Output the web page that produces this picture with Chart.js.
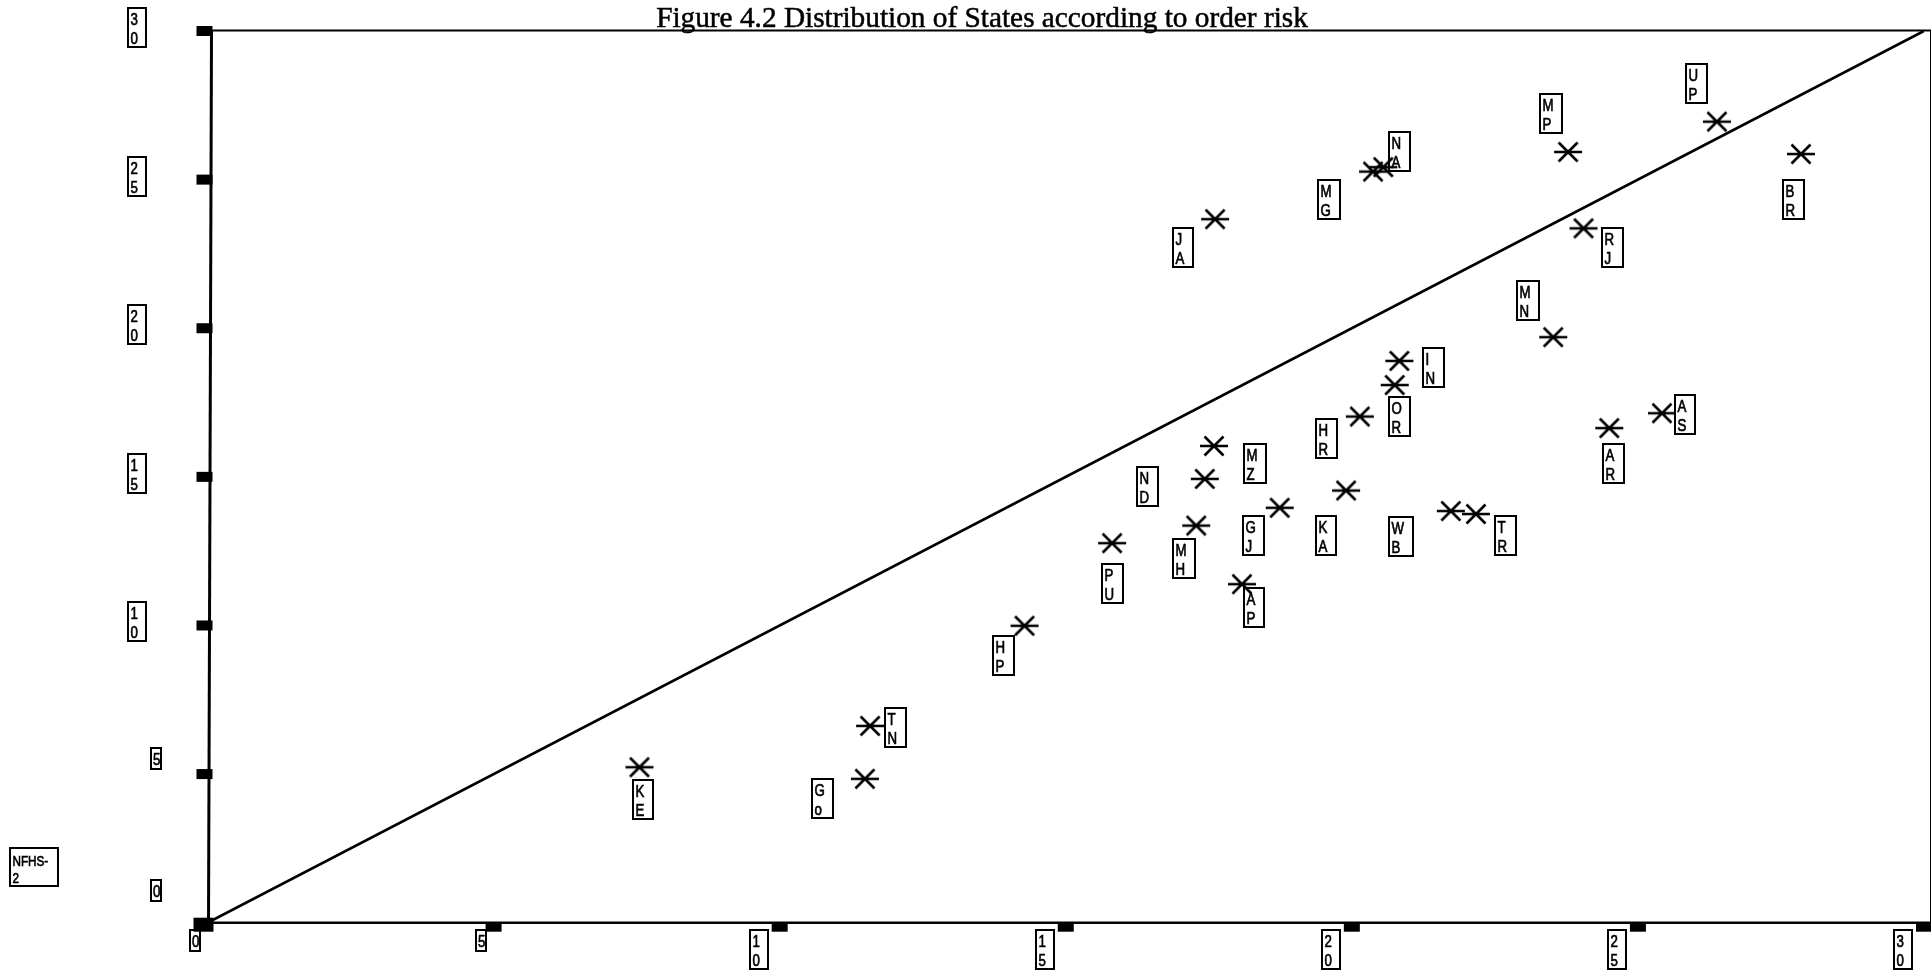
<!DOCTYPE html>
<html>
<head>
<meta charset="utf-8">
<title>Figure 4.2 Distribution of States according to order risk</title>
<script src="https://cdn.jsdelivr.net/npm/chart.js"></script>
<style>
  html, body { margin: 0; padding: 0; background: #fff; overflow: hidden; }
</style>
</head>
<body>
<canvas id="riskChart" width="1931" height="974"></canvas>
<script>
// states and their values
const states = ['KE', 'Go', 'TN', 'HP', 'PU', 'MH', 'ND', 'MZ', 'AP', 'GJ', 'KA', 'HR', 'OR',
                'IN', 'WB', 'TR', 'MN', 'AR', 'AS', 'RJ', 'MP', 'UP', 'BR', 'MG', 'NA', 'JA'];
const xValues = [7.55, 11.49, 11.58, 14.28, 15.81, 17.28, 17.43, 17.59, 18.08, 18.74, 19.90, 20.14, 20.75,
                 20.83, 21.73, 22.17, 23.52, 24.50, 25.42, 24.05, 23.78, 26.38, 27.85, 20.37, 20.55, 17.61];
const nfhs2 = [5.23, 4.84, 6.62, 9.99, 12.77, 13.36, 14.93, 16.04, 11.39, 13.96, 14.54, 17.03, 18.09,
               18.90, 13.85, 13.75, 19.70, 16.64, 17.14, 23.36, 25.93, 26.95, 25.86, 25.27, 25.42, 23.67];
// equal risk line
const refX = [0, 30];
const refY = [0, 30];
const tickValues = [0, 5, 10, 15, 20, 25, 30];
const yAxisName = 'NFHS-2';
const chartTitle = 'Figure 4.2 Distribution of States according to order risk';

// where each state's label box sits relative to its star, in px
const labelOffsets = [[4, 32], [-42, 20], [25, 1.5], [-21, 30], [0, 40], [-12, 33], [-57, 8], [41, 18],
                      [12, 23], [-26, 28], [-20, 45], [-33, 22], [5, 31], [34, 7], [-50, 25], [30, 21],
                      [-25, -37], [4, 35], [23, 1], [29, 19], [-17, -38], [-20, -38], [-7, 45], [-44, 28],
                      [16, -16], [-32, 28]];

const LABEL_FONT = '17px "Liberation Sans", Arial, sans-serif';
const SQUEEZE = 0.78; // narrow letters like the spss output

// asterisk marker: horizontal bar + an X
function makeStar() {
  const c = document.createElement('canvas');
  c.width = 32; c.height = 24;
  const g = c.getContext('2d');
  g.strokeStyle = '#000';
  g.lineWidth = 2.6;
  g.beginPath();
  g.moveTo(2, 12); g.lineTo(30, 12);
  g.moveTo(6.5, 2.5); g.lineTo(25.5, 21.5);
  g.moveTo(6.5, 21.5); g.lineTo(25.5, 2.5);
  g.stroke();
  return c;
}

// text squeezed sideways, with a thin outline so it reads as heavy as the scan
function narrowText(ctx, txt, x, y) {
  ctx.save();
  ctx.translate(x, y);
  ctx.scale(SQUEEZE, 1);
  ctx.lineWidth = 0.7;
  ctx.fillText(txt, 0, 0);
  ctx.strokeText(txt, 0, 0);
  ctx.restore();
}

function boxSize(ctx, text) {
  let w = 0;
  text.split('').forEach(ch => { w = Math.max(w, ctx.measureText(ch).width * SQUEEZE); });
  return [Math.round(w + 11), 19 * text.length + 1];
}

// box with one character per line
function stackedBox(ctx, text, left, top) {
  const [bw, bh] = boxSize(ctx, text);
  ctx.lineWidth = 2;
  ctx.strokeRect(left, top, bw, bh);
  text.split('').forEach((ch, i) => narrowText(ctx, ch, left + 2.5, top + 17 + i * 19));
}

// single clipped digit box (the 0 and 5 ticks)
function clippedBox(ctx, txt, left, top) {
  ctx.lineWidth = 2;
  ctx.strokeRect(left, top, 10, 21);
  ctx.save();
  ctx.beginPath();
  ctx.rect(left, top, 10, 21);
  ctx.clip();
  narrowText(ctx, txt, left + 2, top + 17);
  ctx.restore();
}

const decor = {
  id: 'decor',
  afterDraw(chart) {
    const ctx = chart.ctx;
    const xs = chart.scales.x, ys = chart.scales.y;
    const x0 = xs.getPixelForValue(0), yBottom = ys.getPixelForValue(0), yTop = ys.getPixelForValue(30);
    ctx.save();
    ctx.strokeStyle = '#000';
    ctx.fillStyle = '#000';

    // frame
    ctx.lineWidth = 3;
    ctx.beginPath(); ctx.moveTo(x0 + 1, yBottom); ctx.lineTo(x0 + 4, yTop); ctx.stroke();
    ctx.lineWidth = 2.5;
    ctx.beginPath(); ctx.moveTo(x0, yBottom); ctx.lineTo(chart.width, yBottom); ctx.stroke();
    ctx.lineWidth = 2;
    ctx.beginPath(); ctx.moveTo(x0 + 3, yTop - 0.5); ctx.lineTo(chart.width, yTop - 0.5); ctx.stroke();
    ctx.lineWidth = 1;
    ctx.beginPath(); ctx.moveTo(chart.width - 0.5, yTop); ctx.lineTo(chart.width - 0.5, yBottom); ctx.stroke();

    // tick blocks
    tickValues.forEach(t => {
      const px = xs.getPixelForValue(t), py = ys.getPixelForValue(t);
      if (t === 0) {
        ctx.fillRect(x0 - 14, yBottom - 5, 20, 14);
        return;
      }
      ctx.fillRect(px - 8, yBottom, 16, 9);
      ctx.fillRect(x0 - 11, py - 5, 16, 10);
    });

    // tick labels
    ctx.font = LABEL_FONT;
    const ySingleTop = { 0: -43, 5: -26 };
    tickValues.forEach(t => {
      const px = xs.getPixelForValue(t), py = ys.getPixelForValue(t);
      const s = String(t);
      if (s.length === 1) {
        clippedBox(ctx, s, Math.round(px - 17.5), 930);
        clippedBox(ctx, s, 151, Math.round(py + ySingleTop[t]));
      } else {
        const [bw] = boxSize(ctx, s);
        stackedBox(ctx, s, Math.round(px - 12 - bw), 930);
        stackedBox(ctx, s, 128, Math.round(py - 23));
      }
    });

    // state labels
    const meta = chart.getDatasetMeta(0);
    meta.data.forEach((pt, i) => {
      const [bw, bh] = boxSize(ctx, states[i]);
      const cx = pt.x + labelOffsets[i][0], cy = pt.y + labelOffsets[i][1];
      stackedBox(ctx, states[i], Math.round(cx - bw / 2), Math.round(cy - bh / 2));
    });

    // y axis name box
    ctx.font = '15px "Liberation Sans", Arial, sans-serif';
    ctx.lineWidth = 2;
    ctx.strokeRect(10, 848, 48, 38);
    const parts = yAxisName.split('-');
    narrowText(ctx, parts[0] + '-', 12.5, 866);
    narrowText(ctx, parts[1], 12.5, 883);

    // title, fitted to the width it has in the figure
    let size = 26;
    ctx.font = size + 'px "Liberation Serif", "Times New Roman", serif';
    size = size * 652 / ctx.measureText(chartTitle).width;
    ctx.font = size.toFixed(1) + 'px "Liberation Serif", "Times New Roman", serif';
    ctx.textAlign = 'center';
    ctx.lineWidth = 0.5;
    ctx.fillText(chartTitle, 982, 27);
    ctx.strokeText(chartTitle, 982, 27);
    ctx.restore();
  }
};

const ctx = document.getElementById('riskChart').getContext('2d');
const riskChart = new Chart(ctx, {
  type: 'scatter',
  data: {
    datasets: [{
      label: 'States',
      data: states.map((s, i) => ({ x: xValues[i], y: nfhs2[i] })),
      pointStyle: makeStar(),
      pointRadius: 6,
      pointHoverRadius: 6,
      order: 1
    }, {
      type: 'line',
      label: 'equal risk',
      data: refX.map((x, i) => ({ x: x, y: refY[i] })),
      borderColor: '#000',
      borderWidth: 2.8,
      pointRadius: 0,
      fill: false,
      order: 2
    }]
  },
  options: {
    responsive: false,
    animation: false,
    devicePixelRatio: 1,
    events: [],
    layout: { padding: { left: 207.5, right: 2, top: 31, bottom: 51.3 } },
    scales: {
      x: { type: 'linear', min: 0, max: 30, display: false },
      y: { type: 'linear', min: 0, max: 30, display: false }
    },
    plugins: {
      legend: { display: false },
      tooltip: { enabled: false },
      title: { display: false }
    }
  },
  plugins: [decor]
});
</script>
</body>
</html>
